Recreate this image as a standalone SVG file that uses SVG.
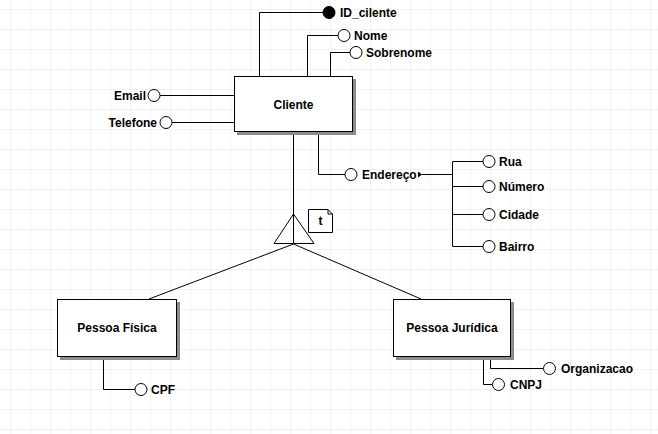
<svg xmlns="http://www.w3.org/2000/svg" width="658" height="434" viewBox="0 0 658 434">
<defs>
<pattern id="grid" x="10" y="9" width="20" height="20" patternUnits="userSpaceOnUse">
<path d="M0 0H20M0 0V20" fill="none" stroke="#e6e6e6" stroke-width="1"/>
</pattern>
<style>
.ln{fill:none;stroke:#000;stroke-width:1}
.at{fill:#fff;stroke:#000;stroke-width:1}
.pk{fill:#000;stroke:#000;stroke-width:1}
.box{fill:#fff;stroke:#000;stroke-width:1}
.sh{fill:#8c8c8c}
.t{font-family:"Liberation Sans",Arial,sans-serif;font-size:12px;font-weight:bold;fill:#000}
.c{text-anchor:middle}
.r{text-anchor:end}
</style>
</defs>
<rect width="658" height="434" fill="#fff"/>
<rect width="658" height="434" fill="url(#grid)"/>

<g id="connectors">
<path class="ln" d="M259.5 76V12.5H323"/>
<path class="ln" d="M307.5 76V35.5H338"/>
<path class="ln" d="M330.5 76V52.5H350"/>
<path class="ln" d="M160 95.5H234"/>
<path class="ln" d="M172 122.5H234"/>
<path class="ln" d="M318.5 132V174.5H345"/>
<path class="ln" d="M422 174.5H452.5"/>
<path class="ln" d="M452.5 161.5V246.5"/>
<path class="ln" d="M452.5 161.5H483"/>
<path class="ln" d="M452.5 186.5H483"/>
<path class="ln" d="M452.5 214.5H483"/>
<path class="ln" d="M452.5 246.5H483"/>
<path class="ln" d="M293.5 132V244"/>
<path class="ln" d="M293.5 244L149 299"/>
<path class="ln" d="M293.5 244L421 299"/>
<path class="ln" d="M103.5 357V389.5H135"/>
<path class="ln" d="M490.5 357V368.5H543"/>
<path class="ln" d="M483.5 357V384.5H492.5"/>
<path d="M418 171.5L422 174.5L418 177.5Z" fill="#000"/>
</g>

<g id="cliente">
<rect class="sh" x="237" y="79" width="119" height="56"/>
<rect class="box" x="234.5" y="76.5" width="118" height="55"/>
<text class="t c" x="293.5" y="109">Cliente</text>
</g>

<g id="id_cilente">
<circle class="pk" cx="329" cy="12.5" r="6"/>
<text class="t" x="340" y="17">ID_cilente</text>
</g>
<g id="nome">
<circle class="at" cx="344" cy="35.5" r="6"/>
<text class="t" x="354" y="40">Nome</text>
</g>
<g id="sobrenome">
<circle class="at" cx="356" cy="52.5" r="6"/>
<text class="t" x="366" y="57">Sobrenome</text>
</g>
<g id="email">
<circle class="at" cx="154" cy="95.5" r="6"/>
<text class="t r" x="146" y="100">Email</text>
</g>
<g id="telefone">
<circle class="at" cx="166" cy="122.5" r="6"/>
<text class="t r" x="157" y="127">Telefone</text>
</g>
<g id="endereco">
<circle class="at" cx="351" cy="174.5" r="6"/>
<text class="t" x="362" y="179">Endereço</text>
</g>
<g id="rua">
<circle class="at" cx="489" cy="161.5" r="6"/>
<text class="t" x="499" y="166">Rua</text>
</g>
<g id="numero">
<circle class="at" cx="489" cy="186.5" r="6"/>
<text class="t" x="499" y="191">Número</text>
</g>
<g id="cidade">
<circle class="at" cx="489" cy="214.5" r="6"/>
<text class="t" x="499" y="219">Cidade</text>
</g>
<g id="bairro">
<circle class="at" cx="489" cy="246.5" r="6"/>
<text class="t" x="499" y="251">Bairro</text>
</g>

<g id="especializacao">
<path class="ln" d="M293.5 214L274 243.5H314Z"/>
<path class="box" d="M308.5 209.5H328L332.5 214V232.5H308.5Z"/>
<path class="ln" d="M328 209.5V214H332.5"/>
<text class="t c" x="320.5" y="225">t</text>
</g>

<g id="pessoa_fisica">
<rect class="sh" x="60" y="302" width="120" height="58"/>
<rect class="box" x="57.5" y="299.5" width="119" height="57"/>
<text class="t c" x="117" y="332">Pessoa Física</text>
</g>
<g id="cpf">
<circle class="at" cx="141" cy="389.5" r="6"/>
<text class="t" x="151" y="394">CPF</text>
</g>

<g id="pessoa_juridica">
<rect class="sh" x="396" y="302" width="118" height="58"/>
<rect class="box" x="393.5" y="299.5" width="117" height="57"/>
<text class="t c" x="452" y="332">Pessoa Jurídica</text>
</g>
<g id="organizacao">
<circle class="at" cx="549.5" cy="368.5" r="6"/>
<text class="t" x="561" y="373">Organizacao</text>
</g>
<g id="cnpj">
<circle class="at" cx="498.5" cy="384.5" r="6"/>
<text class="t" x="510" y="389">CNPJ</text>
</g>
</svg>
